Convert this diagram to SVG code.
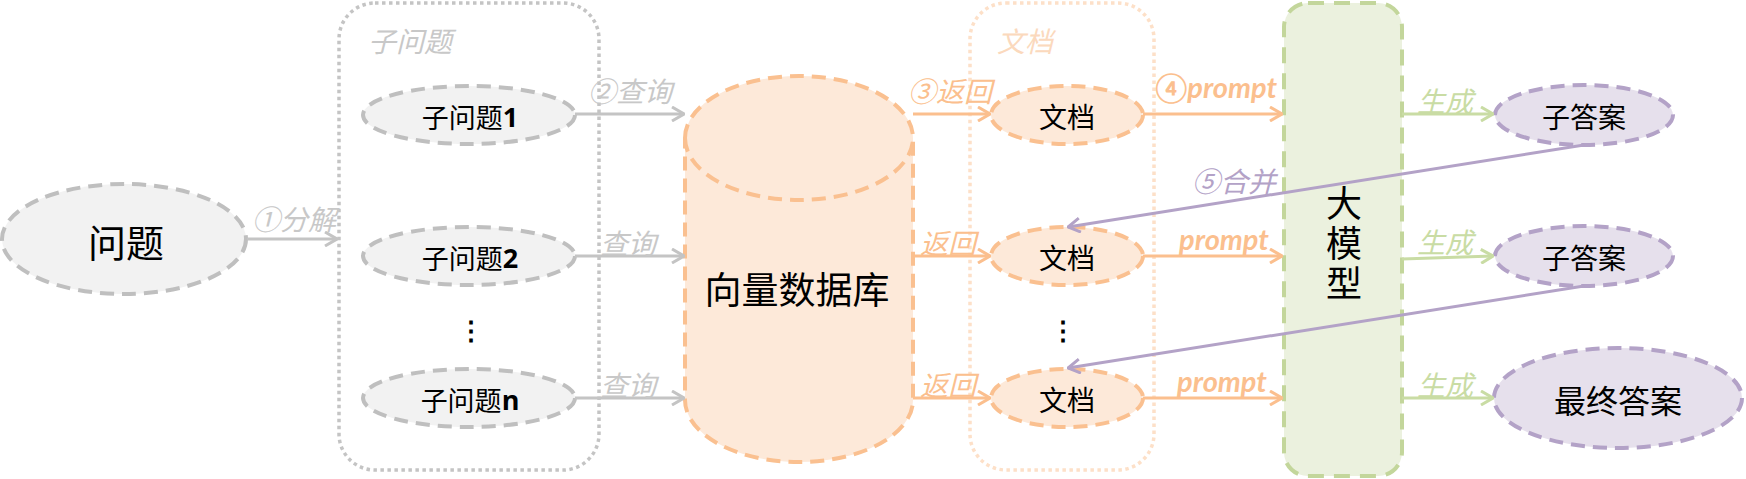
<svg xmlns="http://www.w3.org/2000/svg" width="1746" height="479" viewBox="0 0 1746 479">
<defs>
<style>
.gray-node{fill:#f2f2f2;stroke:#bfbfbf;stroke-width:4;stroke-dasharray:14 8}
.orange-node{fill:#fde9d9;stroke:#fac090;stroke-width:4;stroke-dasharray:14 8}
.green-node{fill:#ebf1de;stroke:#c3d69b;stroke-width:4;stroke-dasharray:16 10}
.purple-node{fill:#e6e0ec;stroke:#b3a2c7;stroke-width:4;stroke-dasharray:14 8}
.t{font-family:"Noto Sans CJK SC","Noto Sans",sans-serif;fill:#000;text-anchor:middle;dominant-baseline:central}
.num{font-family:"Open Sans","Liberation Sans",sans-serif;font-weight:bold}
.lbl{font-family:"Noto Sans CJK SC",sans-serif;font-style:italic;font-size:28px;text-anchor:middle;dominant-baseline:central}
.pr{font-family:"Lato","Open Sans",sans-serif;font-style:italic;font-weight:bold;font-size:29px;text-anchor:middle}
.c-gray{stroke:#c4c4c4;stroke-width:3;fill:none}
.c-orange{stroke:#fbbf8e;stroke-width:3;fill:none}
.c-green{stroke:#c9dca4;stroke-width:3;fill:none}
.c-purple{stroke:#b3a2c7;stroke-width:3;fill:none}
</style>
<marker id="mg" viewBox="0 0 14 16" refX="13" refY="8" markerWidth="14" markerHeight="16" markerUnits="userSpaceOnUse" orient="auto"><path d="M1,1 L13,8 L1,15" fill="none" stroke="#c4c4c4" stroke-width="3"/></marker>
<marker id="mo" viewBox="0 0 14 16" refX="13" refY="8" markerWidth="14" markerHeight="16" markerUnits="userSpaceOnUse" orient="auto"><path d="M1,1 L13,8 L1,15" fill="none" stroke="#fbbf8e" stroke-width="3"/></marker>
<marker id="mgr" viewBox="0 0 14 16" refX="13" refY="8" markerWidth="14" markerHeight="16" markerUnits="userSpaceOnUse" orient="auto"><path d="M1,1 L13,8 L1,15" fill="none" stroke="#c9dca4" stroke-width="3"/></marker>
<marker id="mp" viewBox="0 0 14 16" refX="13" refY="8" markerWidth="14" markerHeight="16" markerUnits="userSpaceOnUse" orient="auto"><path d="M1,1 L13,8 L1,15" fill="none" stroke="#b3a2c7" stroke-width="3"/></marker>
</defs>
<rect width="1746" height="479" fill="#fff"/>

<!-- containers -->
<g id="group-subq">
<rect x="339" y="3" width="260" height="467" rx="36" fill="none" stroke="#c4c4c4" stroke-width="3.5" stroke-dasharray="3.5 3.5"/>
<text x="410" y="40" class="lbl" fill="#c8c8c8">子问题</text>
</g>
<g id="group-docs">
<rect x="970" y="3" width="184" height="467" rx="36" fill="none" stroke="#fde0c8" stroke-width="3.5" stroke-dasharray="3.5 3.5"/>
<text x="1025" y="40" class="lbl" fill="#fbd9bd">文档</text>
</g>

<!-- nodes -->
<g id="node-question">
<ellipse cx="124" cy="239" rx="122" ry="55" class="gray-node"/>
<text x="126" y="240" class="t" style="font-size:38px">问题</text>
</g>
<g id="node-subq1">
<ellipse cx="469" cy="115" rx="106" ry="29" class="gray-node"/>
<text x="470" y="116" class="t" style="font-size:27px">子问题<tspan class="num">1</tspan></text>
</g>
<g id="node-subq2">
<ellipse cx="469" cy="256" rx="106" ry="29" class="gray-node"/>
<text x="470" y="257" class="t" style="font-size:27px">子问题<tspan class="num">2</tspan></text>
</g>
<g id="node-subq-dots">
<text x="471" y="331" class="t" style="font-size:26px;font-family:'Liberation Sans',sans-serif;font-weight:bold">⋮</text>
</g>
<g id="node-subqn">
<ellipse cx="469" cy="398" rx="106" ry="29" class="gray-node"/>
<text x="470" y="399" class="t" style="font-size:27px">子问题<tspan class="num">n</tspan></text>
</g>
<g id="node-vectordb">
<path d="M685,138 A114,62 0 0 1 913,138 L913,400 A114,62 0 0 1 685,400 Z" class="orange-node"/>
<path d="M685,138 A114,62 0 0 0 913,138" fill="none" stroke="#fac090" stroke-width="4" stroke-dasharray="14 8"/>
<text x="797" y="288" class="t" style="font-size:37px">向量数据库</text>
</g>
<g id="node-doc1">
<ellipse cx="1067" cy="115" rx="76" ry="29" class="orange-node"/>
<text x="1067" y="116" class="t" style="font-size:28px">文档</text>
</g>
<g id="node-doc2">
<ellipse cx="1067" cy="256" rx="76" ry="29" class="orange-node"/>
<text x="1067" y="257" class="t" style="font-size:28px">文档</text>
</g>
<g id="node-doc-dots">
<text x="1063" y="331" class="t" style="font-size:26px;font-family:'Liberation Sans',sans-serif;font-weight:bold">⋮</text>
</g>
<g id="node-doc3">
<ellipse cx="1067" cy="398" rx="76" ry="29" class="orange-node"/>
<text x="1067" y="399" class="t" style="font-size:28px">文档</text>
</g>
<g id="node-llm">
<rect x="1284" y="3" width="118" height="473" rx="24" class="green-node"/>
<text x="1344" y="245" style="font-family:'Noto Sans CJK SC',sans-serif;font-size:36px;writing-mode:vertical-rl;text-anchor:middle;letter-spacing:4px;fill:#000">大模型</text>
</g>
<g id="node-ans1">
<ellipse cx="1584" cy="115" rx="89" ry="30" class="purple-node"/>
<text x="1584" y="116" class="t" style="font-size:28px">子答案</text>
</g>
<g id="node-ans2">
<ellipse cx="1584" cy="256" rx="89" ry="30" class="purple-node"/>
<text x="1584" y="257" class="t" style="font-size:28px">子答案</text>
</g>
<g id="node-final">
<ellipse cx="1618" cy="398" rx="124" ry="50" class="purple-node"/>
<text x="1618" y="399" class="t" style="font-size:32px">最终答案</text>
</g>

<!-- connectors -->
<g id="connectors">
<line x1="247" y1="239" x2="337" y2="239" class="c-gray" marker-end="url(#mg)"/>
<line x1="575" y1="114" x2="684" y2="114" class="c-gray" marker-end="url(#mg)"/>
<line x1="575" y1="256" x2="684" y2="256" class="c-gray" marker-end="url(#mg)"/>
<line x1="575" y1="398" x2="684" y2="398" class="c-gray" marker-end="url(#mg)"/>
<line x1="913" y1="114" x2="990" y2="114" class="c-orange" marker-end="url(#mo)"/>
<line x1="913" y1="256" x2="990" y2="256" class="c-orange" marker-end="url(#mo)"/>
<line x1="913" y1="398" x2="990" y2="398" class="c-orange" marker-end="url(#mo)"/>
<line x1="1143" y1="114" x2="1282" y2="114" class="c-orange" marker-end="url(#mo)"/>
<line x1="1143" y1="256" x2="1282" y2="256" class="c-orange" marker-end="url(#mo)"/>
<line x1="1143" y1="398" x2="1282" y2="398" class="c-orange" marker-end="url(#mo)"/>
<line x1="1402" y1="114" x2="1493" y2="114" class="c-green" marker-end="url(#mgr)"/>
<line x1="1402" y1="259" x2="1493" y2="256" class="c-green" marker-end="url(#mgr)"/>
<line x1="1402" y1="398" x2="1493" y2="398" class="c-green" marker-end="url(#mgr)"/>
<line x1="1584" y1="145" x2="1068" y2="227" class="c-purple" marker-end="url(#mp)"/>
<line x1="1584" y1="286" x2="1068" y2="368" class="c-purple" marker-end="url(#mp)"/>
<text x="294" y="218" class="lbl" fill="#c8c8c8">①分解</text>
<text x="630" y="90" class="lbl" fill="#c8c8c8">②查询</text>
<text x="628" y="242" class="lbl" fill="#c8c8c8">查询</text>
<text x="628" y="384" class="lbl" fill="#c8c8c8">查询</text>
<text x="950" y="90" class="lbl" fill="#fbbf8e">③返回</text>
<text x="948" y="242" class="lbl" fill="#fbbf8e">返回</text>
<text x="948" y="384" class="lbl" fill="#fbbf8e">返回</text>
<text x="1216" y="98" class="pr" fill="#fbbf8e">④prompt</text>
<text x="1224" y="250" class="pr" fill="#fbbf8e">prompt</text>
<text x="1222" y="392" class="pr" fill="#fbbf8e">prompt</text>
<text x="1445" y="100" class="lbl" fill="#c9dca4">生成</text>
<text x="1445" y="241" class="lbl" fill="#c9dca4">生成</text>
<text x="1445" y="384" class="lbl" fill="#c9dca4">生成</text>
<text x="1234" y="180" class="lbl" fill="#b3a2c7">⑤合并</text>
</g>
</svg>
